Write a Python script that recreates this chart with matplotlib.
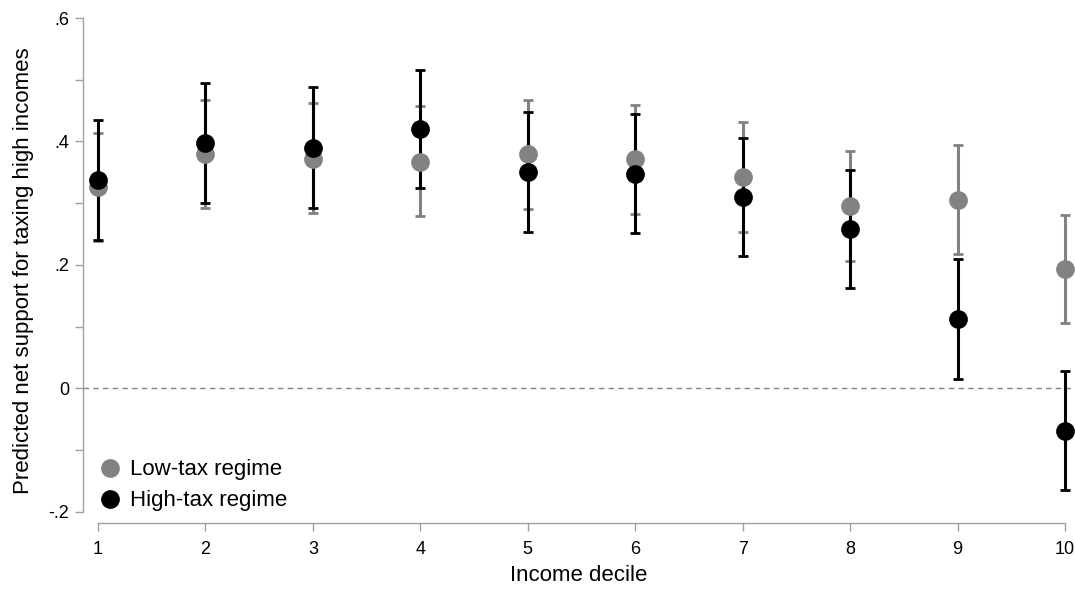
import matplotlib
matplotlib.use('Agg')
import matplotlib.pyplot as plt
import numpy as np

plt.rcParams['font.family'] = ['Liberation Sans', 'DejaVu Sans']

deciles = [1, 2, 3, 4, 5, 6, 7, 8, 9, 10]

low_est = [0.326, 0.379, 0.372, 0.367, 0.379, 0.371, 0.342, 0.295, 0.306, 0.194]
low_hi = [0.414, 0.468, 0.463, 0.457, 0.467, 0.459, 0.431, 0.384, 0.394, 0.281]
low_lo = [0.239, 0.292, 0.285, 0.280, 0.291, 0.283, 0.254, 0.207, 0.217, 0.106]

high_est = [0.338, 0.397, 0.390, 0.420, 0.351, 0.348, 0.310, 0.258, 0.112, -0.069]
high_hi = [0.435, 0.494, 0.488, 0.515, 0.448, 0.445, 0.406, 0.354, 0.209, 0.028]
high_lo = [0.241, 0.300, 0.293, 0.324, 0.254, 0.252, 0.214, 0.162, 0.016, -0.165]

y_ticks = [-0.2, 0, 0.2, 0.4, 0.6]
y_labels = ['-.2', '0', '.2', '.4', '.6']
y_minor = [-0.1, 0.1, 0.3, 0.5]

GRAY = '#828282'
AXC = '#a0a0a0'

fig = plt.figure(figsize=(10.75, 5.89), dpi=100)
ax = fig.add_axes([83 / 1075, 1 - 523 / 589, 1 - 83 / 1075, (523 - 18) / 589])

x = np.array(deciles)
ax.axhline(0, color='#808080', lw=1.0, ls=(0, (4, 3)), zorder=1)

# caps first, then the points on top
ax.errorbar(x, low_est, yerr=[np.array(low_est) - np.array(low_lo), np.array(low_hi) - np.array(low_est)],
            fmt='none', ecolor=GRAY, elinewidth=2.2, capsize=3.6, capthick=2.0, zorder=2)
ax.errorbar(x, high_est, yerr=[np.array(high_est) - np.array(high_lo), np.array(high_hi) - np.array(high_est)],
            fmt='none', ecolor='black', elinewidth=2.2, capsize=3.6, capthick=2.0, zorder=3)
ax.plot(x, low_est, 'o', color=GRAY, ms=13.5, mew=0, ls='none', zorder=4, label='Low-tax regime')
ax.plot(x, high_est, 'o', color='black', ms=13.5, mew=0, ls='none', zorder=5, label='High-tax regime')

ax.set_xlim(1 - 15 / 107.44, 10 + 10 / 107.44)
ax.set_ylim(-0.2 - 11 / 617, 0.6)

for s in ['top', 'right']:
    ax.spines[s].set_visible(False)
ax.spines['left'].set_bounds(-0.2, 0.6)
ax.spines['bottom'].set_bounds(1, 10)
ax.spines['left'].set_color(AXC)
ax.spines['bottom'].set_color(AXC)
ax.spines['left'].set_linewidth(1.0)
ax.spines['bottom'].set_linewidth(1.0)

ax.set_xticks(deciles)
ax.set_xticklabels([str(d) for d in deciles])
ax.set_yticks(y_ticks)
ax.set_yticklabels(y_labels)
ax.set_yticks(y_minor, minor=True)
ax.tick_params(axis='both', which='both', length=6, width=1.0, color=AXC, labelsize=13, pad=4)
ax.tick_params(axis='x', pad=7)

ax.set_xlabel('Income decile', fontsize=16, labelpad=5)
ax.set_ylabel('Predicted net support for taxing high incomes', fontsize=16, labelpad=10)

ax.legend(loc='lower left', bbox_to_anchor=(-0.002, -0.012), frameon=False, fontsize=16,
          handletextpad=0.4, labelspacing=0.45, borderaxespad=0.4, handlelength=1.0)

fig.savefig('out.png', dpi=100)
